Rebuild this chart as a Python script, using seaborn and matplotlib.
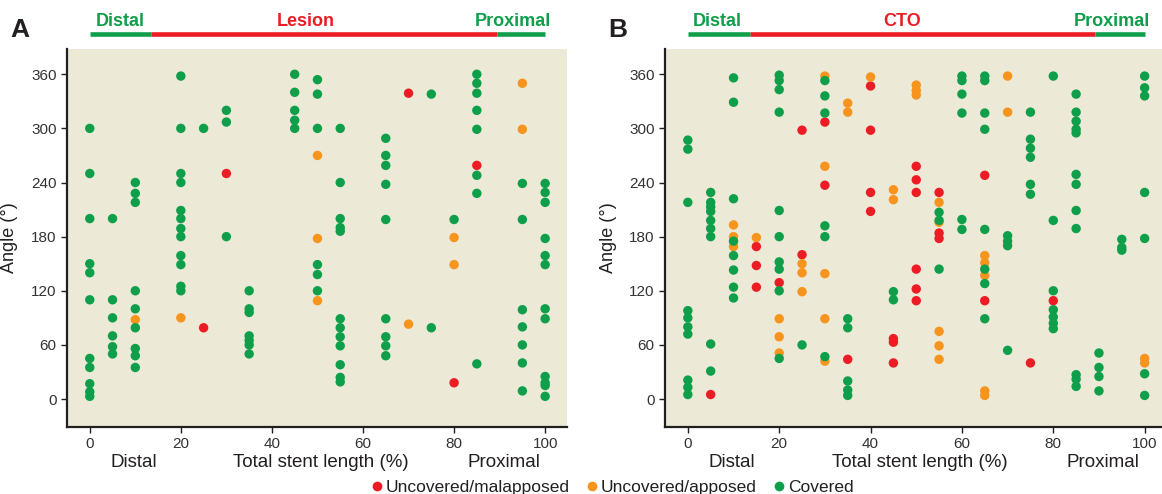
import numpy as np
import pandas as pd
import seaborn as sns
import matplotlib
matplotlib.use("Agg")
import matplotlib.pyplot as plt
from matplotlib.lines import Line2D
import matplotlib.transforms as mtrans

# ---------------- data ----------------
status_labels = ["Uncovered/malapposed", "Uncovered/apposed", "Covered"]
status_colors = ["#ed1c24", "#f7941d", "#0f9f4b"]

# Panel A (Lesion)
a_mal_x = [25, 30, 70, 80, 85]
a_mal_y = [79, 250, 339, 18, 259]
a_app_x = [10, 20, 50, 50, 50, 70, 80, 80, 95, 95]
a_app_y = [88, 90, 270, 178, 109, 83, 179, 149, 350, 299]
a_cov = {
    0: [300, 250, 200, 150, 140, 110, 45, 35, 17, 8, 3],
    5: [200, 110, 90, 70, 58, 50],
    10: [240, 228, 218, 120, 100, 79, 56, 48, 35],
    20: [358, 300, 250, 240, 209, 200, 189, 180, 159, 149, 125, 120],
    25: [300],
    30: [320, 307, 180],
    35: [120, 100, 96, 70, 65, 60, 50],
    45: [360, 340, 320, 309, 300],
    50: [354, 338, 300, 149, 138, 120],
    55: [300, 240, 200, 190, 186, 89, 79, 69, 59, 38, 24, 19],
    65: [289, 270, 259, 238, 199, 89, 69, 59, 48],
    75: [338, 79],
    80: [199],
    85: [360, 350, 339, 320, 299, 248, 228, 39],
    95: [239, 199, 99, 80, 60, 40, 9],
    100: [239, 229, 218, 178, 159, 149, 100, 89, 25, 18, 15, 3],
}

# Panel B (CTO)
b_mal_x = [5, 15, 15, 15, 20, 25, 25, 30, 30, 35, 40, 40, 40, 40, 45, 45, 45,
           50, 50, 50, 50, 50, 50, 55, 55, 55, 65, 65, 75, 80]
b_mal_y = [5, 169, 148, 124, 129, 298, 160, 307, 237, 44, 347, 298, 229, 208, 67, 63, 40,
           258, 243, 229, 144, 122, 109, 229, 184, 178, 248, 109, 40, 109]
b_app_x = [10, 10, 10, 15, 20, 20, 20, 25, 25, 25, 30, 30, 30, 30, 30, 35, 35, 40,
           45, 45, 50, 50, 50, 55, 55, 55, 55, 55, 65, 65, 65, 65, 65, 70, 70, 100, 100]
b_app_y = [193, 180, 169, 179, 89, 69, 51, 150, 140, 119, 358, 258, 139, 89, 42, 328, 318, 357,
           232, 221, 348, 342, 337, 218, 196, 75, 59, 44, 159, 151, 137, 9, 4, 358, 318, 45, 40]
b_cov = {
    0: [287, 277, 218, 98, 90, 80, 72, 21, 13, 5],
    5: [229, 218, 213, 208, 198, 189, 180, 61, 31],
    10: [356, 329, 222, 175, 159, 143, 124, 112],
    20: [359, 353, 343, 318, 209, 180, 152, 144, 120, 45],
    25: [60],
    30: [353, 336, 317, 192, 180, 47],
    35: [89, 79, 20, 10, 4],
    45: [119, 110],
    55: [207, 198, 144],
    60: [358, 353, 338, 317, 199, 188],
    65: [358, 353, 317, 299, 188, 144, 128, 89],
    70: [181, 175, 170, 54],
    75: [318, 288, 278, 268, 238, 227],
    80: [358, 198, 120, 99, 91, 84, 78],
    85: [338, 318, 308, 299, 295, 249, 238, 209, 189, 27, 22, 14],
    90: [51, 35, 25, 9],
    95: [177, 168, 165],
    100: [358, 345, 336, 229, 178, 28, 4],
}

x_ticks = [0, 20, 40, 60, 80, 100]
y_ticks = [0, 60, 120, 180, 240, 300, 360]

segment_bounds = [[0, 13.5, 89.5, 100], [0, 13.5, 89.2, 100]]
segment_names = [["Distal", "Lesion", "Proximal"], ["Distal", "CTO", "Proximal"]]
segment_colors = ["#0f9f4b", "#ed1c24", "#0f9f4b"]
panel_letters = ["A", "B"]


def build_frame(mal_x, mal_y, app_x, app_y, cov):
    cov_x = [k for k, v in cov.items() for _ in v]
    cov_y = [a for v in cov.values() for a in v]
    df = pd.concat([
        pd.DataFrame({"pos": mal_x, "angle": mal_y, "status": status_labels[0]}),
        pd.DataFrame({"pos": app_x, "angle": app_y, "status": status_labels[1]}),
        pd.DataFrame({"pos": cov_x, "angle": cov_y, "status": status_labels[2]}),
    ], ignore_index=True)
    return df


frames = [build_frame(a_mal_x, a_mal_y, a_app_x, a_app_y, a_cov),
          build_frame(b_mal_x, b_mal_y, b_app_x, b_app_y, b_cov)]

# ---------------- style ----------------
sns.set_theme(style="ticks")
plt.rcParams["font.family"] = ["Liberation Sans Narrow", "Liberation Sans", "DejaVu Sans"]
text_col = "#231f20"
bg_col = "#ece9d7"

fig = plt.figure(figsize=(11.62, 4.94), dpi=100)
axes_rects = [[67 / 1162, 1 - 427 / 494, 500 / 1162, 378 / 494],
              [665 / 1162, 1 - 427 / 494, 497 / 1162, 378 / 494]]
xlims = [(-5, 104.8), (-5, 103.8)]
letter_x = [20 / 1162, 618 / 1162]
seg_text_x = [[1.3, 47.4, 101.3], [1.1, 47.0, 101.1]]
seg_ha = ["left", "center", "right"]

palette = dict(zip(status_labels, status_colors))

for i, df in enumerate(frames):
    ax = fig.add_axes(axes_rects[i])
    ax.set_facecolor(bg_col)
    sns.scatterplot(data=df, x="pos", y="angle", hue="status", palette=palette,
                    hue_order=status_labels, s=46, linewidth=0, legend=False,
                    ax=ax, zorder=3)
    ax.set_xlim(*xlims[i])
    ax.set_ylim(-31, 388)
    ax.set_xticks(x_ticks)
    ax.set_yticks(y_ticks)
    ax.set_xticklabels([str(t) for t in x_ticks])
    ax.set_yticklabels([str(t) for t in y_ticks])
    for side in ["top", "right"]:
        ax.spines[side].set_visible(False)
    for side in ["left", "bottom"]:
        ax.spines[side].set_linewidth(1.6)
        ax.spines[side].set_color(text_col)
    ax.tick_params(axis="both", direction="out", length=4.5, width=1.0,
                   color=text_col, labelsize=11, labelcolor="#333333", pad=3)
    ax.set_xlabel("")
    ax.set_ylabel("Angle (°)", fontsize=13, color=text_col)
    ax.yaxis.set_label_coords(-0.098 if i == 0 else -0.097, 0.5)

    # labels under x-axis
    trans = mtrans.blended_transform_factory(ax.transData, ax.transAxes)
    for xx, lab in zip([9.7, 50.7, 90.9], ["Distal", "Total stent length (%)", "Proximal"]):
        ax.text(xx, -0.094, lab, transform=trans, ha="center", va="center",
                fontsize=13.5, color=text_col, clip_on=False)

    # top segment bar
    bounds = segment_bounds[i]
    for j in range(3):
        ax.plot([bounds[j], bounds[j + 1]], [1.039, 1.039], transform=trans,
                color=segment_colors[j], lw=3.3, solid_capstyle="butt", clip_on=False)
        ax.text(seg_text_x[i][j], 1.073, segment_names[i][j], transform=trans,
                ha=seg_ha[j], va="center", fontsize=13, fontweight="bold",
                color=segment_colors[j], clip_on=False)

    fig.text(letter_x[i], 1 - 30 / 494, panel_letters[i], ha="center", va="center",
             fontsize=19, fontweight="bold", color=text_col)

handles = [Line2D([0], [0], marker="o", linestyle="", markersize=7,
                  markerfacecolor=c, markeredgewidth=0) for c in status_colors]
fig.legend(handles, status_labels, loc="center", bbox_to_anchor=(611 / 1162, 1 - 487 / 494),
           ncol=3, frameon=False, fontsize=12.5, handletextpad=0.0, columnspacing=0.8,
           handlelength=1.0, labelcolor=text_col, borderaxespad=0, borderpad=0)

fig.savefig("out.png", dpi=100)
